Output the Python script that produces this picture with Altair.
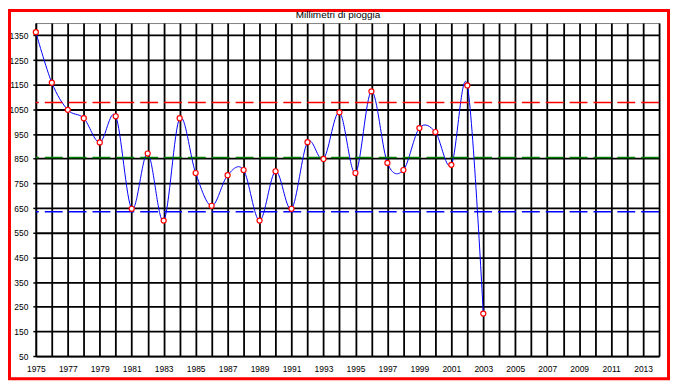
import altair as alt
import pandas as pd

# ---- data ----
years = list(range(1975, 2004))
rain = [1363, 1158, 1048, 1014, 916, 1022, 647, 871, 599, 1014,
        792, 659, 783, 804, 599, 799, 647, 917, 849, 1038,
        792, 1123, 833, 804, 974, 958, 825, 1147, 222]
ref_levels = [1078, 855, 635]
ref_names = ["superiore", "media", "inferiore"]
ref_colors = ["#ff0000", "#008000", "#0000ff"]
title_text = "Millimetri di pioggia"
x_ticks = list(range(1975, 2015))
y_ticks = list(range(50, 1400, 100))

df = pd.DataFrame({"anno": years, "mm": rain})
ref = pd.DataFrame({"livello": ref_levels, "tipo": ref_names})

W, H = 627, 335
FONT = "Liberation Sans"

xscale = alt.Scale(domain=[1975, 2014], nice=False, zero=False)
yscale = alt.Scale(domain=[50, 1400], nice=False, zero=False)

x_axis = alt.Axis(values=x_ticks, grid=True, gridColor="black", gridWidth=1.8,
                  labelExpr="(datum.value % 2 == 1 && datum.value <= 2013) ? datum.value : ''",
                  format="d", ticks=False, labelPadding=9, labelFont=FONT,
                  labelFontSize=8.5, labelColor="black", domainColor="black",
                  domainWidth=1.5, title=None, labelFlush=False, labelOverlap=False)
y_axis = alt.Axis(values=y_ticks, grid=True, gridColor="black", gridWidth=1.8,
                  format="d", tickSize=3, tickWidth=1.5, labelPadding=5, labelFont=FONT,
                  labelFontSize=8.5, labelColor="black", domainColor="black",
                  domainWidth=1.5, tickColor="black", title=None, labelFlush=False,
                  labelOverlap=False)

X = alt.X("anno:Q", scale=xscale, axis=x_axis)
Y = alt.Y("mm:Q", scale=yscale, axis=y_axis)

base = alt.Chart(df)

line = base.mark_line(interpolate="cardinal", color="#0000ff", strokeWidth=1).encode(x=X, y=Y)

rules = alt.Chart(ref).mark_rule(strokeDash=[18, 6], strokeWidth=1.5).encode(
    y=alt.Y("livello:Q", scale=yscale, axis=y_axis),
    color=alt.Color("tipo:N", scale=alt.Scale(domain=ref_names, range=ref_colors), legend=None),
)

points = base.mark_point(shape="circle", fill="white", stroke="#ff0000", fillOpacity=1,
                         strokeWidth=1.2, size=26, opacity=1).encode(x=X, y=Y)

frame = alt.Chart(pd.DataFrame({"a": [0]})).mark_rect(
    filled=False, stroke="#ff0000", strokeWidth=3).encode(
    x=alt.value(-26.5), x2=alt.value(636.5), y=alt.value(-12.5), y2=alt.value(357.8))

title = alt.Chart(pd.DataFrame({"a": [0]})).mark_text(
    text=title_text, font=FONT, fontSize=10, color="black", baseline="middle", align="center").encode(
    x=alt.value(304), y=alt.value(-8))

chart = alt.layer(line, rules, points, frame, title).properties(
    width=W, height=H,
    padding={"left": 28, "top": 14, "right": 12, "bottom": 25},
    autosize=alt.AutoSizeParams(type="none"),
    background="white",
).configure_view(stroke="#808080", strokeWidth=1)

chart.save("out.html", embed_options={"renderer": "svg", "actions": False})
